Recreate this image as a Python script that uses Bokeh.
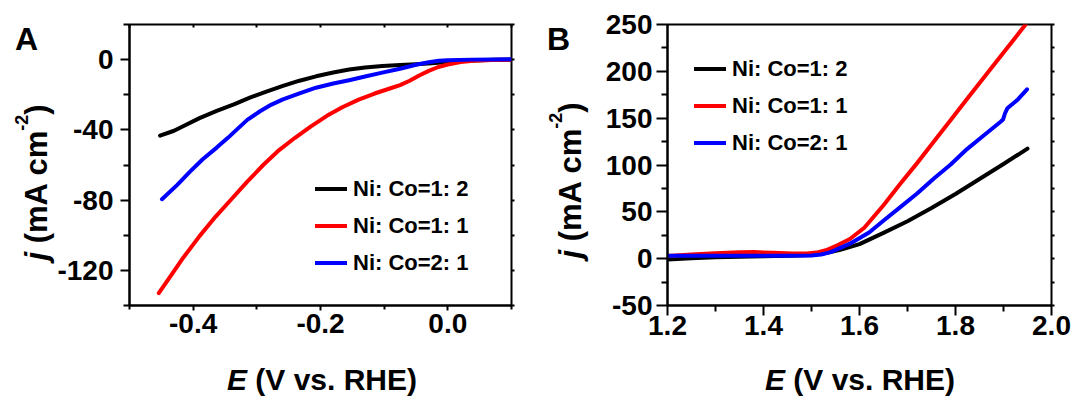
import math
from bokeh.plotting import figure
from bokeh.models import (Range1d, FixedTicker, LinearAxis, Legend, GridBox, Div,
                          LegendItem, NumeralTickFormatter, CustomJSTickFormatter)
from bokeh.embed import file_html
from bokeh.resources import INLINE

FONT = "Liberation Sans"

series_labels = ["Ni: Co=1: 2", "Ni: Co=1: 1", "Ni: Co=2: 1"]
series_colors = ["#000000", "#ff0000", "#0000ff"]

# ---------------- Panel A (HER) ----------------
a_black_x = [-0.452, -0.43, -0.415, -0.39, -0.363, -0.335, -0.311, -0.285, -0.259, -0.233, -0.207, -0.18,
             -0.155, -0.13, -0.103, -0.075, -0.05, -0.025, 0.0, 0.025, 0.05, 0.075, 0.1]
a_black_y = [-43.3, -40.5, -37.8, -33.3, -29.2, -25.3, -21.6, -18.2, -15.0, -12.0, -9.5, -7.3,
             -5.6, -4.5, -3.6, -3.0, -2.6, -2.0, -1.3, -0.7, -0.3, -0.1, 0.0]

a_red_x = [-0.454, -0.435, -0.415, -0.39, -0.365, -0.34, -0.315, -0.29, -0.265, -0.24, -0.215, -0.19,
           -0.165, -0.14, -0.115, -0.09, -0.075, -0.06, -0.045, -0.03, -0.015, 0.0, 0.02, 0.04, 0.07, 0.1]
a_red_y = [-133.0, -123.0, -112.5, -100.5, -89.5, -79.5, -69.5, -60.0, -51.5, -44.5, -38.0, -32.0,
           -27.0, -22.8, -19.3, -16.3, -14.5, -12.0, -9.0, -6.4, -4.2, -2.8, -1.4, -0.6, -0.2, 0.0]

a_blue_x = [-0.449, -0.425, -0.405, -0.385, -0.363, -0.345, -0.332, -0.315, -0.295, -0.277, -0.259, -0.233,
            -0.207, -0.18, -0.155, -0.13, -0.103, -0.075, -0.05, -0.03, -0.014, 0.0, 0.037, 0.07, 0.1]
a_blue_y = [-79.5, -71.3, -63.8, -56.7, -50.1, -44.4, -40.0, -34.3, -29.4, -25.6, -22.6, -19.2,
            -16.0, -13.6, -11.7, -9.6, -7.4, -5.2, -2.9, -1.5, -0.7, -0.3, 0.0, 0.1, 0.2]

a_x_range = (-0.5, 0.1)
a_y_range = (-140, 20)
a_x_ticks = [-0.4, -0.2, 0.0]
a_x_tick_labels = ["-0.4", "-0.2", "0.0"]
a_x_minor = [-0.5, -0.3, -0.1, 0.1]
a_y_ticks = [-120, -80, -40, 0]
a_y_tick_labels = ["-120", "-80", "-40", "0"]
a_y_minor = [-140, -100, -60, -20, 20]

# ---------------- Panel B (OER) ----------------
b_black_x = [1.2, 1.25, 1.3, 1.35, 1.4, 1.45, 1.5, 1.53, 1.56, 1.6, 1.65, 1.7, 1.75, 1.8, 1.85, 1.9, 1.95]
b_black_y = [-1.0, 0.5, 1.5, 2.0, 2.5, 3.0, 4.0, 6.0, 9.5, 15.5, 27.5, 40.0, 54.0, 69.0, 85.0, 101.0, 117.5]

b_red_x = [1.2, 1.25, 1.3, 1.35, 1.38, 1.42, 1.46, 1.49, 1.51, 1.53, 1.555, 1.58, 1.61, 1.65, 1.685,
           1.72, 1.755, 1.79, 1.824, 1.86, 1.894, 1.92, 1.946]
b_red_y = [2.8, 4.5, 5.8, 6.8, 7.0, 6.3, 5.5, 5.5, 6.5, 9.0, 14.5, 21.0, 33.0, 57.0, 80.0,
           102.0, 125.0, 148.0, 170.5, 194.0, 216.0, 233.0, 250.0]

b_blue_x = [1.2, 1.3, 1.4, 1.45, 1.5, 1.52, 1.54, 1.58, 1.62, 1.651, 1.685, 1.72, 1.755, 1.79, 1.824,
            1.86, 1.894, 1.899, 1.903, 1.908, 1.93, 1.949]
b_blue_y = [3.0, 3.0, 3.0, 3.0, 3.5, 4.5, 7.0, 16.0, 28.0, 41.0, 55.0, 69.5, 85.6, 100.5, 117.0,
            132.0, 146.2, 148.5, 155.0, 160.5, 170.0, 180.8]

b_x_range = (1.2, 2.0)
b_y_range = (-50, 250)
b_x_ticks = [1.2, 1.4, 1.6, 1.8, 2.0]
b_x_tick_labels = ["1.2", "1.4", "1.6", "1.8", "2.0"]
b_x_minor = [1.3, 1.5, 1.7, 1.9]
b_y_ticks = [-50, 0, 50, 100, 150, 200, 250]
b_y_tick_labels = ["-50", "0", "50", "100", "150", "200", "250"]
b_y_minor = [-25, 25, 75, 125, 175, 225]

panel_letters = ["A", "B"]
x_title_main, x_title_rest = "E", " (V vs. RHE)"
y_title_main, y_title_rest, y_title_sup, y_title_end = "j", " (mA cm", "-2", ")"

W_TOTAL, H = 1077, 398


def overrides(ticks, labels):
    d = {}
    for t, l in zip(ticks, labels):
        d[float(t)] = l
        key = str(int(t)) if float(t).is_integer() else repr(float(t))
        d[key] = l
    return d


def make_panel(width, height, geom, xr, yr):
    L, R, T, B, page_x0, page_y0 = geom
    p = figure(width=width, height=height, x_range=Range1d(*xr), y_range=Range1d(*yr),
               output_backend="svg", toolbar_location=None,
               min_border_left=L - page_x0, min_border_right=page_x0 + width - R,
               min_border_top=T - page_y0, min_border_bottom=page_y0 + height - B)
    p.grid.visible = False
    p.outline_line_color = "black"
    p.outline_line_width = 2
    p.outline_line_alpha = 1.0
    p.background_fill_color = "white"
    p.border_fill_color = "white"
    return p


def style_axis(ax, ticks, minor, labels, tick_out, minor_out, standoff, fmt):
    ax.ticker = FixedTicker(ticks=ticks, minor_ticks=minor)
    ax.formatter = NumeralTickFormatter(format=fmt)
    ax.major_label_overrides = overrides(ticks, labels)
    ax.axis_line_width = 2
    ax.axis_line_color = "black"
    ax.major_tick_line_width = 2
    ax.minor_tick_line_width = 2
    ax.major_tick_line_color = "black"
    ax.minor_tick_line_color = "black"
    ax.major_tick_out = tick_out
    ax.major_tick_in = 0
    ax.minor_tick_out = minor_out
    ax.minor_tick_in = 0
    ax.major_label_standoff = standoff
    ax.major_label_text_font = FONT
    ax.major_label_text_font_style = "bold"
    ax.major_label_text_font_size = "28px"
    ax.major_label_text_color = "black"


def mirror_axis(p, side, ticks, minor, tin, tout):
    ax = LinearAxis(ticker=FixedTicker(ticks=ticks, minor_ticks=minor),
                    formatter=CustomJSTickFormatter(code="return ''"))
    ax.major_label_text_font_size = "1px"
    ax.major_label_standoff = 0
    ax.axis_line_color = None
    ax.major_tick_line_width = 2
    ax.minor_tick_line_width = 2
    ax.major_tick_in = tin
    ax.major_tick_out = tout
    ax.minor_tick_in = tin
    ax.minor_tick_out = tout
    if tin == 0 and tout == 0:
        ax.major_tick_line_color = None
        ax.minor_tick_line_color = None
    p.add_layout(ax, side)


def add_lines_and_legend(p, xs, ys, loc):
    items = []
    for x, y, lab, col in zip(xs, ys, series_labels, series_colors):
        r = p.line(x, y, line_color=col, line_width=4, line_join="round", line_cap="round")
        items.append(LegendItem(label=lab, renderers=[r]))
    leg = Legend(items=items, location=loc, padding=0, margin=0, spacing=0,
                 glyph_width=32, glyph_height=37, label_height=37, label_standoff=6,
                 label_text_font=FONT, label_text_font_style="bold", label_text_font_size="22px",
                 label_text_color="black", border_line_color=None, background_fill_alpha=0)
    p.add_layout(leg, "center")


# ---- HTML overlay for panel letters and axis titles (rich text: italic, superscript) ----
ASC = 0.8465  # baseline position (em) inside a line-height:1 box for Liberation Sans


def span_letter(text, x, baseline, size):
    top = baseline - ASC * size
    return (f'<div style="position:absolute;left:{x}px;top:{top:.1f}px;font-size:{size}px;'
            f'line-height:{size}px;white-space:nowrap;">{text}</div>')


def span_xtitle(cx, baseline, size):
    w = 260
    top = baseline - ASC * size
    html = f'<i>{x_title_main}</i>{x_title_rest}'
    return (f'<div style="position:absolute;left:{cx - w / 2:.1f}px;top:{top:.1f}px;width:{w}px;'
            f'text-align:center;font-size:{size}px;line-height:{size}px;white-space:nowrap;">{html}</div>')


def span_ytitle(base_x, cy, size, sup_size, sup_shift):
    w = 220
    cx = base_x - (ASC * size - size / 2)
    html = (f'<i>{y_title_main}</i>{y_title_rest}'
            f'<span style="position:relative;top:-{sup_shift}px;font-size:{sup_size}px;">{y_title_sup}</span>'
            f'{y_title_end}')
    return (f'<div style="position:absolute;left:{cx - w / 2:.1f}px;top:{cy - size / 2:.1f}px;width:{w}px;'
            f'height:{size}px;text-align:center;font-size:{size}px;line-height:{size}px;white-space:nowrap;'
            f'transform:rotate(-90deg);transform-origin:50% 50%;">{html}</div>')


overlay_parts = [
    span_letter(panel_letters[0], 15, 50, 32),
    span_letter(panel_letters[1], 547, 50, 32),
    span_xtitle(322, 390, 30),
    span_xtitle(860, 390, 30),
    span_ytitle(46.5, 182, 31, 18, 19),
    span_ytitle(581, 180, 31, 18, 19),
]
overlay_html = (f'<div style="position:relative;width:{W_TOTAL}px;height:{H}px;'
                f"font-family:'{FONT}',Arial,sans-serif;font-weight:bold;color:#000;"
                f'pointer-events:none;">' + "".join(overlay_parts) + '</div>')
overlay = Div(text=overlay_html, width=W_TOTAL, height=H, margin=0, disable_math=True)

# geometry: frame left, right, top, bottom (page px), figure page origin x, y
geomA = (129, 511, 23, 305, 0, 0)
geomB = (667, 1051, 24, 305, 540, 0)

pA = make_panel(540, H, geomA, a_x_range, a_y_range)
style_axis(pA.xaxis[0], a_x_ticks, a_x_minor, a_x_tick_labels, 5, 4, 3, "0.0")
style_axis(pA.yaxis[0], a_y_ticks, a_y_minor, a_y_tick_labels, 9, 6, 7, "0")
mirror_axis(pA, "above", a_x_ticks, a_x_minor, 3, 0)
mirror_axis(pA, "right", a_y_ticks, a_y_minor, 0, 3)
add_lines_and_legend(pA, [a_black_x, a_red_x, a_blue_x], [a_black_y, a_red_y, a_blue_y], (186, 24))

pB = make_panel(537, H, geomB, b_x_range, b_y_range)
style_axis(pB.xaxis[0], b_x_ticks, b_x_minor, b_x_tick_labels, 10, 6, 0, "0.0")
style_axis(pB.yaxis[0], b_y_ticks, b_y_minor, b_y_tick_labels, 11, 6, 4, "0")
mirror_axis(pB, "above", b_x_ticks, b_x_minor, 0, 0)
mirror_axis(pB, "right", b_y_ticks, b_y_minor, 0, 3)
add_lines_and_legend(pB, [b_black_x, b_red_x, b_blue_x], [b_black_y, b_red_y, b_blue_y], (27, 144))

layout = GridBox(children=[(pA, 0, 0), (pB, 0, 1), (overlay, 0, 0, 1, 2)])
open("out.html", "w").write(file_html(layout, INLINE))
